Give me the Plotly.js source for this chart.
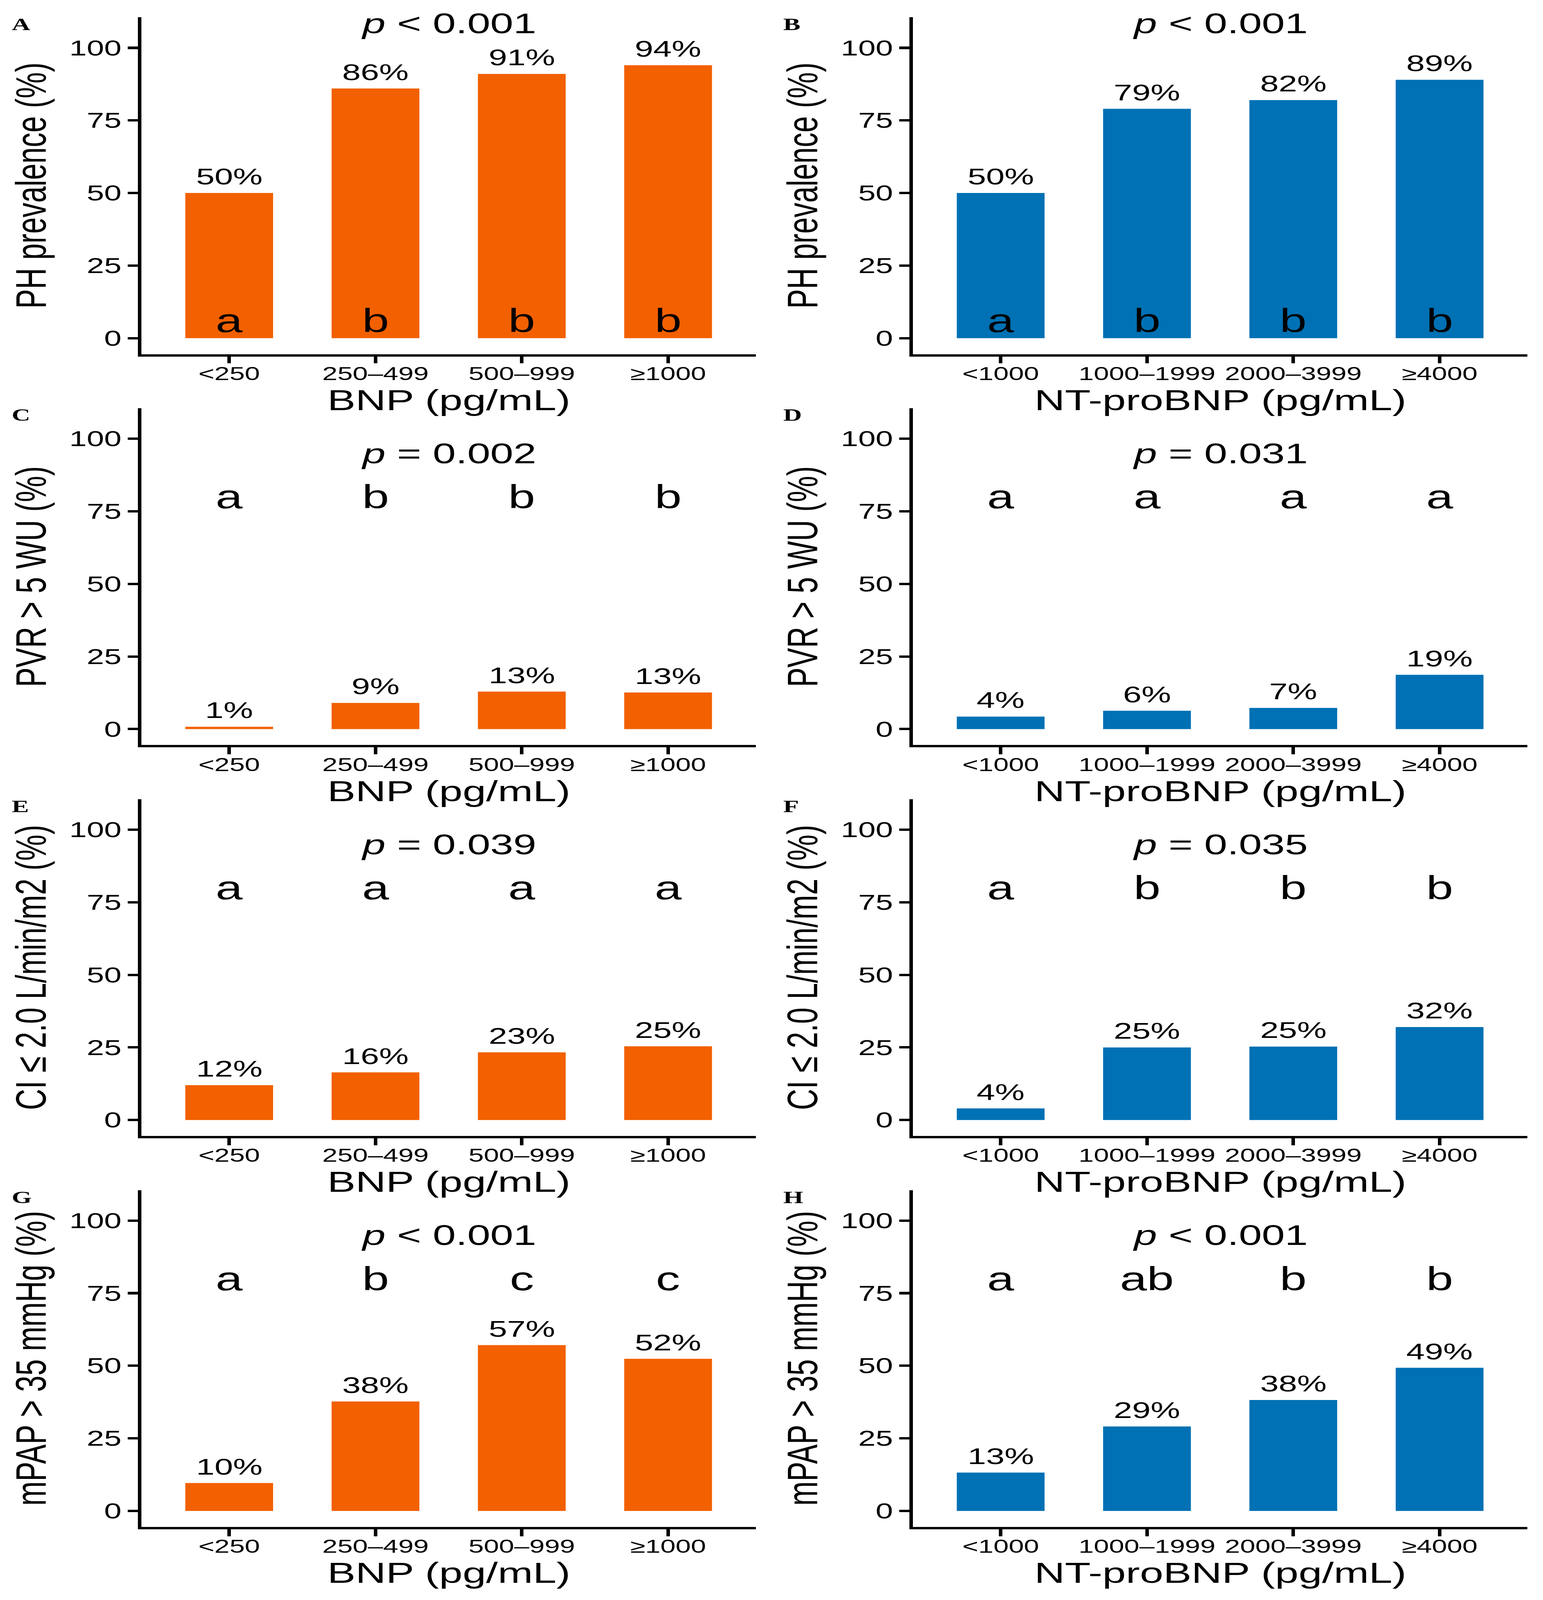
<!DOCTYPE html>
<html>
<head>
<meta charset="utf-8">
<script src="https://cdn.plot.ly/plotly-3.0.1.min.js"></script>
<style>
  html, body { margin: 0; background: #fff; overflow: hidden; }
  #wrap { width: 3950px; overflow: hidden; }
  #chartDiv { width: 3950px; height: 5996px; transform-origin: 0 0; }
</style>
</head>
<body>
<div id="wrap"><div id="chartDiv"></div></div>
<script>
// categories
var bnpCats = ['<250', '250–499', '500–999', '≥1000'];
var ntCats = ['<1000', '1000–1999', '2000–3999', '≥4000'];

// series values (%)
var phBnp = [50, 86, 91, 94];
var phNt = [50, 79, 82, 89];
var pvrBnp = [0.8, 9, 12.9, 12.6];
var pvrNt = [4.3, 6.3, 7.3, 18.7];
var ciBnp = [12, 16.4, 23.3, 25.4];
var ciNt = [4, 25, 25.3, 32];
var mpapBnp = [9.6, 37.7, 57.1, 52.4];
var mpapNt = [13.2, 29.1, 38.2, 49.3];

// group letters and p values
var lettersA = ['a', 'b', 'b', 'b'];
var lettersB = ['a', 'b', 'b', 'b'];
var lettersC = ['a', 'b', 'b', 'b'];
var lettersD = ['a', 'a', 'a', 'a'];
var lettersE = ['a', 'a', 'a', 'a'];
var lettersF = ['a', 'b', 'b', 'b'];
var lettersG = ['a', 'b', 'c', 'c'];
var lettersH = ['a', 'ab', 'b', 'b'];
var pTexts = ['p < 0.001', 'p < 0.001', 'p = 0.002', 'p = 0.031',
              'p = 0.039', 'p = 0.035', 'p < 0.001', 'p < 0.001'];
var panelTags = ['A', 'B', 'C', 'D', 'E', 'F', 'G', 'H'];

var yTitles = ['PH prevalence (%)', 'PH prevalence (%)',
               'PVR > 5 WU (%)', 'PVR > 5 WU (%)',
               'CI ≤ 2.0 L/min/m2 (%)', 'CI ≤ 2.0 L/min/m2 (%)',
               'mPAP > 35 mmHg (%)', 'mPAP > 35 mmHg (%)'];
var xTitles = ['BNP (pg/mL)', 'NT-proBNP (pg/mL)'];

var ORANGE = '#F26000';
var BLUE = '#0071B4';
var W = 3950, H = 5996;
var sans = '"Liberation Sans", Arial, sans-serif';

var panels = [
  {vals: phBnp, letters: lettersA, col: 0},
  {vals: phNt, letters: lettersB, col: 1},
  {vals: pvrBnp, letters: lettersC, col: 0},
  {vals: pvrNt, letters: lettersD, col: 1},
  {vals: ciBnp, letters: lettersE, col: 0},
  {vals: ciNt, letters: lettersF, col: 1},
  {vals: mpapBnp, letters: lettersG, col: 0},
  {vals: mpapNt, letters: lettersH, col: 1}
];

var data = [];
var layout = {
  width: W, height: H,
  margin: {l: 0, r: 0, t: 0, b: 0},
  paper_bgcolor: '#fff', plot_bgcolor: '#fff',
  showlegend: false,
  annotations: []
};

function buildPanel(i) {
  var p = panels[i];
  var row = Math.floor(i / 2);
  var n = i === 0 ? '' : String(i + 1);
  var xa = 'x' + n, ya = 'y' + n;
  var cats = p.col === 0 ? bnpCats : ntCats;

  // plot area in page pixels
  var pxLeft = 362 + 1975 * p.col, pxRight = 1935 + 1975 * p.col;
  var pxTop = 65 + 1465 * row, pxBottom = 1327 + 1465 * row;

  data.push({
    type: 'bar',
    x: cats,
    y: p.vals,
    width: 0.6,
    marker: {color: p.col === 0 ? ORANGE : BLUE, line: {width: 0}},
    xaxis: xa, yaxis: ya,
    hoverinfo: 'skip'
  });

  layout['xaxis' + n] = {
    domain: [pxLeft / W, pxRight / W],
    anchor: ya,
    type: 'category',
    range: [-0.6, 3.6],
    showline: true, linecolor: '#000', linewidth: 9,
    ticks: 'outside', ticklen: 26, tickwidth: 9, tickcolor: '#000',
    ticklabelstandoff: -22,
    showgrid: false, zeroline: false,
    tickfont: {family: sans, size: 70, color: '#000'},
    fixedrange: true
  };
  layout['yaxis' + n] = {
    domain: [1 - pxBottom / H, 1 - pxTop / H],
    anchor: xa,
    range: [-5.5, 110.5],
    tickvals: [0, 25, 50, 75, 100],
    showline: true, linecolor: '#000', linewidth: 9,
    ticks: 'outside', ticklen: 26, tickwidth: 9, tickcolor: '#000',
    showgrid: false, zeroline: false,
    tickfont: {family: sans, size: 80, color: '#000'},
    fixedrange: true
  };

  // value labels above bars, group letters
  for (let k = 0; k < cats.length; k++) {
    layout.annotations.push({
      xref: xa, yref: ya, x: cats[k], y: p.vals[k],
      text: Math.round(p.vals[k]) + '%',
      showarrow: false, yanchor: 'bottom', yshift: 12,
      font: {family: sans, size: 85, color: '#000'}
    });
    layout.annotations.push({
      xref: xa, yref: ya, x: cats[k], y: row === 0 ? 6 : 80,
      text: p.letters[k],
      showarrow: false, yanchor: 'middle',
      font: {family: sans, size: 124, color: '#000'}
    });
  }

  // p value
  var pt = pTexts[i].replace(/^p/, '<i>p</i>').replace('<i>p</i> <', '<i>p</i> &lt;');
  layout.annotations.push({
    xref: xa, yref: ya, x: 1.5, y: row === 0 ? 108.5 : 95,
    text: pt, showarrow: false, yanchor: 'middle',
    font: {family: sans, size: 106, color: '#000'}
  });

  // y title
  layout.annotations.push({
    xref: xa + ' domain', yref: ya + ' domain', x: 0, y: 0.5,
    xshift: -284, xanchor: 'center', yanchor: 'middle', textangle: -90,
    text: yTitles[i].replace('>', '&gt;'), showarrow: false,
    font: {family: sans, size: 110, color: '#000'}
  });

  // x title
  layout.annotations.push({
    xref: xa + ' domain', yref: ya + ' domain', x: 0.5, y: 0,
    yshift: -172, xanchor: 'center', yanchor: 'middle',
    text: xTitles[p.col], showarrow: false,
    font: {family: sans, size: 108, color: '#000'}
  });

  // panel tag
  layout.annotations.push({
    xref: xa + ' domain', yref: ya + ' domain', x: 0, y: 1,
    xshift: -334, yshift: -25, xanchor: 'left', yanchor: 'middle',
    text: '<b>' + panelTags[i] + '</b>', showarrow: false,
    font: {family: '"Liberation Serif", "Times New Roman", serif', size: 66, color: '#000'}
  });
}

for (let i = 0; i < panels.length; i++) {
  buildPanel(i);
}

// the browser window can be shorter than the figure: squeeze it to fit
var fit = Math.min(1, window.innerHeight / H);
document.getElementById('chartDiv').style.transform = 'scale(1,' + fit + ')';
document.getElementById('wrap').style.height = Math.floor(H * fit) + 'px';

Plotly.newPlot('chartDiv', data, layout, {staticPlot: true, displayModeBar: false});
</script>
</body>
</html>
